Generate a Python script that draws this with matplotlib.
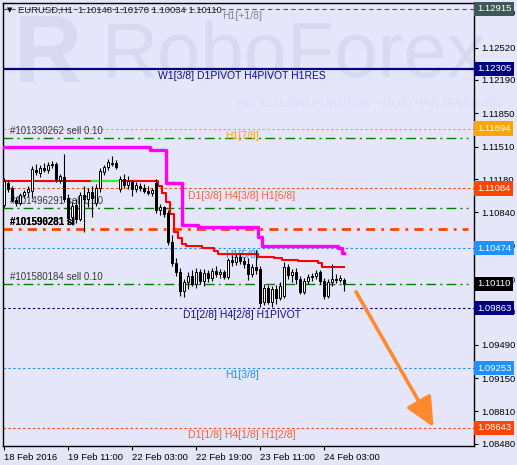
import matplotlib
matplotlib.use('Agg')
import matplotlib.pyplot as plt
import matplotlib.transforms as mtransforms
from matplotlib.patches import FancyArrowPatch
import numpy as np

# ---------------- data ----------------
opens = [1.1092, 1.1114, 1.1109, 1.1097, 1.1094, 1.1102, 1.1105, 1.1106, 1.1127, 1.1124,
         1.1129, 1.1127, 1.1132, 1.1133, 1.1117, 1.1120, 1.1099, 1.1079, 1.1092, 1.1077,
         1.1102, 1.1098, 1.1105, 1.1094, 1.1109, 1.1125, 1.1130, 1.1134, 1.1134, 1.1108,
         1.1118, 1.1112, 1.1115, 1.1108, 1.1111, 1.1109, 1.1106, 1.1104, 1.1114, 1.1086,
         1.1089, 1.1083, 1.1054, 1.1032, 1.1023, 1.1004, 1.1013, 1.1019, 1.1011, 1.1023,
         1.1014, 1.1022, 1.1017, 1.1024, 1.1021, 1.1023, 1.1018, 1.1035, 1.1033, 1.1039,
         1.1034, 1.1031, 1.1021, 1.1028, 1.1026, 1.0993, 1.1007, 1.0993, 1.1006, 1.0997,
         1.0999, 1.1028, 1.1020, 1.1023, 1.1016, 1.1003, 1.1014, 1.1018, 1.1019, 1.1023,
         1.1014, 1.0999, 1.1013, 1.1016, 1.1015, 1.10148]
highs = [1.1119, 1.1117, 1.1111, 1.1100, 1.1104, 1.1107, 1.1111, 1.1131, 1.1133, 1.1132,
         1.1134, 1.1135, 1.1136, 1.1135, 1.1123, 1.1144, 1.1103, 1.1095, 1.1098, 1.1105,
         1.1111, 1.1109, 1.1111, 1.1113, 1.1129, 1.1132, 1.1138, 1.1141, 1.1137, 1.1121,
         1.1123, 1.1121, 1.1117, 1.1115, 1.1114, 1.1113, 1.1111, 1.1109, 1.1118, 1.1093,
         1.1091, 1.1086, 1.1061, 1.1037, 1.1027, 1.1016, 1.1023, 1.1025, 1.1027, 1.1026,
         1.1026, 1.1025, 1.1027, 1.1029, 1.1026, 1.1025, 1.1037, 1.1041, 1.1042, 1.1043,
         1.1039, 1.1037, 1.1031, 1.1046, 1.1029, 1.1011, 1.1010, 1.1009, 1.1010, 1.1013,
         1.1033, 1.1031, 1.1026, 1.1027, 1.1019, 1.1017, 1.1021, 1.1022, 1.1025, 1.1025,
         1.1017, 1.1016, 1.1031, 1.1021, 1.1020, 1.10170]
lows = [1.1089, 1.1105, 1.1095, 1.1091, 1.1092, 1.1099, 1.1101, 1.1099, 1.1122, 1.1120,
        1.1125, 1.1124, 1.1129, 1.1115, 1.1114, 1.1095, 1.1072, 1.1071, 1.1073, 1.1075,
        1.1064, 1.1090, 1.1079, 1.1091, 1.1105, 1.1122, 1.1127, 1.1131, 1.1128, 1.1105,
        1.1109, 1.1108, 1.1101, 1.1105, 1.1106, 1.1104, 1.1102, 1.1101, 1.1083, 1.1081,
        1.1079, 1.1051, 1.1029, 1.1019, 1.0999, 1.0998, 1.1006, 1.1009, 1.1007, 1.1011,
        1.1009, 1.1013, 1.1014, 1.1018, 1.1017, 1.1016, 1.1016, 1.1029, 1.1030, 1.1031,
        1.1027, 1.1015, 1.1018, 1.1021, 1.0988, 1.0990, 1.0991, 1.0988, 1.0991, 1.0995,
        1.0997, 1.1016, 1.1013, 1.1011, 1.1001, 1.1001, 1.1011, 1.1014, 1.1016, 1.1011,
        1.0996, 1.0997, 1.1009, 1.1012, 1.1013, 1.10034]
closes = [1.1116, 1.1108, 1.1097, 1.1094, 1.1102, 1.1105, 1.1108, 1.1128, 1.1125, 1.1129,
          1.1127, 1.1132, 1.1133, 1.1118, 1.1121, 1.1098, 1.1078, 1.1091, 1.1077, 1.1102,
          1.1098, 1.1105, 1.1099, 1.1109, 1.1126, 1.1130, 1.1135, 1.1133, 1.1130, 1.1118,
          1.1112, 1.1116, 1.1108, 1.1112, 1.1109, 1.1106, 1.1104, 1.1107, 1.1086, 1.1089,
          1.1082, 1.1054, 1.1032, 1.1023, 1.1004, 1.1013, 1.1019, 1.1011, 1.1023, 1.1014,
          1.1022, 1.1017, 1.1024, 1.1021, 1.1023, 1.1018, 1.1035, 1.1033, 1.1039, 1.1034,
          1.1031, 1.1021, 1.1028, 1.1025, 1.0992, 1.1007, 1.0993, 1.1006, 1.0997, 1.1009,
          1.1028, 1.1020, 1.1023, 1.1016, 1.1003, 1.1014, 1.1018, 1.1019, 1.1022, 1.1014,
          1.0999, 1.1013, 1.1016, 1.1015, 1.1017, 1.10110]

red_line = ([1.1116] * 39 + [1.1111, 1.1104, 1.1095, 1.1082, 1.1064, 1.1058, 1.1052]
            + [1.1050] * 4 + [1.1048] * 3 + [1.1045] + [1.1042] * 10 + [1.1039] * 4
            + [1.1037] * 2 + [1.1035] * 4 + [1.1034] * 5 + [1.1032] + [1.1028] * 6)
green_from, green_to = 22, 29
magenta_line = ([1.1151] * 37 + [1.1148] * 4 + [1.1114] * 4 + [1.1071] * 4 + [1.1069] * 15
                + [1.1059] + [1.1050] * 19 + [1.1048, 1.1043])

# level lines: (price, line color, style, label, label color, box color)
levels = [
    (1.12915, '#4a5f5c', 'dash', 'H1[+1/8]', '#7a8a9a', '#3e5955'),
    (1.12305, '#000080', 'solid', 'W1[3/8] D1PIVOT H4PIVOT H1RES', '#101090', '#000080'),
    (1.11694, '#FFA500', 'dot', 'H1[7/8]', '#FFA500', '#FFA500'),
    (1.11084, '#FF4500', 'dot', 'D1[3/8] H4[3/8] H1[6/8]', '#FF6030', '#FF4500'),
    (1.10474, '#1E90FF', 'dot', 'H1[5/8]', '#1E90FF', '#1E90FF'),
    (1.09863, '#000080', 'dot', 'D1[2/8] H4[2/8] H1PIVOT', '#101090', '#000080'),
    (1.09253, '#1E90FF', 'dot', 'H1[3/8]', '#1E90FF', '#1E90FF'),
    (1.08643, '#FF4500', 'dot', 'D1[1/8] H4[1/8] H1[2/8]', '#FF6030', '#FF4500'),
]
current_price = 1.10110

orders = [1.1160, 1.1088, 1.1011]
order_labels = ['#101330262 sell 0.10', '#101496291 sell 0.10', '#101580184 sell 0.10']
stop_price = 1.1067
stop_labels = ['#101590281 sl', '#101596281 sl']

yticks = [1.12880, 1.12520, 1.12190, 1.11850, 1.11510, 1.11180, 1.10840, 1.10500,
          1.10160, 1.09830, 1.09490, 1.09150, 1.08810, 1.08480]
xtick_pos = [0, 16, 32, 48, 64, 80]
xtick_labels = ['18 Feb 2016', '19 Feb 11:00', '22 Feb 03:00', '22 Feb 19:00',
                '23 Feb 11:00', '24 Feb 03:00']

arrow_start = (88.0, 1.1003)
arrow_end = (107.4, 1.0865)

header = 'EURUSD,H1  1.10148 1.10170 1.10034 1.10110'

# ---------------- figure ----------------
BG = '#E6E6FA'
fig = plt.figure(figsize=(5.17, 4.65), dpi=100)
fig.patch.set_facecolor(BG)
ax = fig.add_axes([3 / 517, 19 / 465, 471 / 517, 443 / 465])
ax.set_facecolor('none')
ax.set_xlim(-0.25, 117.5)
ax.set_ylim(1.08458, 1.12975)

FONT = 'Liberation Sans'

# watermark (figure level, behind everything)
wm = '#D9D9F0'
fig.text(14 / 517, 1 - 57 / 465, 'R', fontsize=68, fontweight='bold',
         color=wm, family=FONT, va='center', ha='left', zorder=-5)
fig.text(102 / 517, 1 - 56 / 465, 'RoboForex', fontsize=56,
         color=wm, family=FONT, va='center', ha='left', zorder=-5)
fig.text(237 / 517, 1 - 104 / 465, 'ИСПОЛЬЗУЙ РОБОТОВ – ПОЛУЧАЙ ПРИБЫЛЬ',
         fontsize=8.5, color='#DDDDF3', family=FONT, va='center', ha='left', zorder=-5)

styles = {'dash': (0, (4, 3)), 'dot': (0, (2.2, 2.2)), 'solid': '-'}
blend = mtransforms.blended_transform_factory(ax.transAxes, ax.transData)
label_x = 59.5
for price, col, st, lab, lcol, boxcol in levels:
    lw = 1.6 if st == 'solid' else 0.8
    ax.axhline(price, color=col, lw=lw, ls=styles[st], zorder=1.5)
    ax.annotate(lab, (label_x, price), xytext=(0, -1.5), textcoords='offset points',
                ha='center', va='top', fontsize=7.5, color=lcol, family=FONT, zorder=2)
    ax.text(1.006, price, f'{price:.5f}', transform=blend, ha='left', va='center',
            fontsize=6.8, color='white', family=FONT, zorder=10, clip_on=False,
            bbox=dict(boxstyle='square,pad=0.28', fc=boxcol, ec='none'))
ax.text(1.006, current_price, f'{current_price:.5f}', transform=blend, ha='left',
        va='center', fontsize=6.8, color='white', family=FONT, zorder=10, clip_on=False,
        bbox=dict(boxstyle='square,pad=0.28', fc='black', ec='none'))

# order lines
for price, lab in zip(orders, order_labels):
    ax.axhline(price, xmin=0, xmax=0.987, color='#008000', lw=1.0,
               ls=(0, (7, 3, 1.5, 3)), zorder=1.6)
    ax.annotate(lab, (1.5, price), xytext=(0, 1.5), textcoords='offset points',
                ha='left', va='bottom', fontsize=7, color='#3a3a3a', family=FONT, zorder=2)
ax.axhline(stop_price, xmin=0, xmax=0.987, color='#FF4500', lw=2.0,
           ls=(0, (3.3, 2.2, 1.0, 2.2)), zorder=1.6)
for lab in stop_labels:
    ax.annotate(lab, (1.5, stop_price), xytext=(0, 1.5), textcoords='offset points',
                ha='left', va='bottom', fontsize=7, color='black', fontweight='bold',
                family=FONT, zorder=2)

# indicator lines
xi = np.arange(len(red_line))
ax.plot(xi, magenta_line, color='#FF00FF', lw=2.4, drawstyle='steps-mid', zorder=4)
ax.plot(xi, red_line, color='#FF0000', lw=1.5, drawstyle='steps-mid', zorder=4)
ax.plot(xi[green_from:green_to + 1], red_line[green_from:green_to + 1], color='#22FF22',
        lw=1.5, drawstyle='steps-mid', zorder=4.1)

# candles
o = np.array(opens); h = np.array(highs); l = np.array(lows); c = np.array(closes)
x = np.arange(len(o))
up = c >= o
ax.vlines(x, l, h, color='black', lw=0.8, zorder=5)
bottom = np.minimum(o, c)
height = np.maximum(np.abs(c - o), 0.00004)
ax.bar(x[up], height[up], bottom=bottom[up], width=0.7, color='white', edgecolor='black',
       lw=0.7, zorder=6)
ax.bar(x[~up], height[~up], bottom=bottom[~up], width=0.7, color='black', edgecolor='black',
       lw=0.7, zorder=6)

# forecast arrow
arr = FancyArrowPatch(arrow_start, arrow_end, arrowstyle='-|>,head_length=1.8,head_width=0.85',
                      mutation_scale=10, color='#FF8A2E', lw=2.6, shrinkA=0, shrinkB=0,
                      zorder=7)
ax.add_patch(arr)

# header
ax.text(0.008, 0.983, '▼', transform=ax.transAxes, fontsize=5, color='black',
        family='DejaVu Sans', va='center', ha='left', zorder=8)
ax.text(0.032, 0.983, header, transform=ax.transAxes, fontsize=6.8, color='#222222',
        family=FONT, va='center', ha='left', zorder=8)

# axes
ax.yaxis.tick_right()
ax.set_yticks(yticks)
ax.set_yticklabels([f'{v:.5f}' for v in yticks], fontsize=6.8, family=FONT)
ax.set_xticks(xtick_pos)
ax.set_xticklabels(xtick_labels, fontsize=6.8, family=FONT)
for t in ax.get_xticklabels():
    t.set_horizontalalignment('left')
ax.tick_params(axis='both', length=3, width=0.8, color='black', pad=2)
for s in ax.spines.values():
    s.set_color('black')
    s.set_linewidth(1.0)

fig.savefig('out.png', dpi=100, facecolor=BG)
